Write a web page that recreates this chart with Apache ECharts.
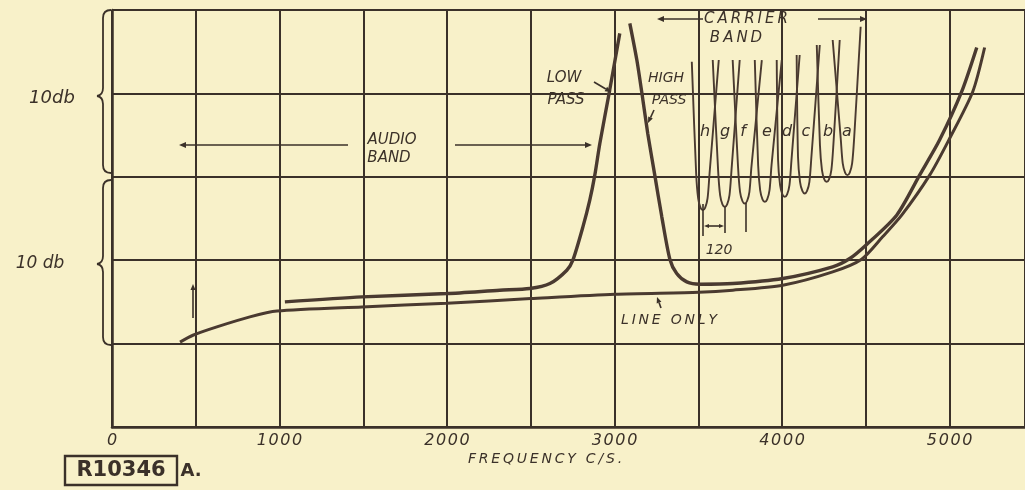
<!DOCTYPE html>
<html><head><meta charset="utf-8">
<script src="https://cdn.jsdelivr.net/npm/echarts@6/dist/echarts.min.js"></script>
<style>html,body{margin:0;padding:0;background:#f8f1c9;}#c{width:1025px;height:490px;}</style>
</head><body><div id="c"></div>
<script>
// ---- data (frequency c/s, relative loss in db; one grid step = 5 db) ----
const xTickLabels = [0, 1000, 2000, 3000, 4000, 5000];
const lowPass = [[1032,7.5],[1492,7.8],[1999,8.0],[2315,8.2],[2494,8.3],[2614,8.6],[2715,9.4],[2751,10.0],[2811,12.0],[2852,13.6],[2882,15.1],[2912,17.0],[2971,20.2],[3031,23.6]];
const highPass = [[3091,24.2],[3133,22.0],[3162,20.1],[3198,17.6],[3240,15.1],[3282,12.6],[3330,10.06],[3371,9.2],[3431,8.7],[3509,8.56],[3706,8.6],[4004,8.9],[4302,9.6],[4404,10.1],[4500,10.9],[4684,12.7],[4821,15.1],[4940,17.2],[5072,20.1],[5162,22.75]];
const lineOnly = [[406,5.09],[483,5.5],[626,6.0],[823,6.6],[985,6.95],[1492,7.2],[1999,7.42],[2500,7.7],[3001,7.96],[3503,8.08],[3706,8.2],[4004,8.5],[4302,9.3],[4475,10.06],[4600,11.4],[4714,12.7],[4881,15.1],[4995,17.2],[5138,20.1],[5209,22.75]];
const filterH = [[3461,21.9],[3487,15.2],[3499,13.7],[3513,13.15],[3527,13.0],[3541,13.15],[3555,13.7],[3567,15.2],[3622,22.0]];
const filterG = [[3586,22.0],[3618,15.4],[3630,13.9],[3644,13.35],[3658,13.2],[3672,13.35],[3686,13.9],[3698,15.4],[3747,22.0]];
const filterF = [[3705,22.0],[3737,15.6],[3749,14.1],[3763,13.55],[3777,13.4],[3791,13.55],[3805,14.1],[3817,15.6],[3879,22.0]];
const filterE = [[3837,22.0],[3857,15.7],[3869,14.2],[3883,13.65],[3897,13.5],[3911,13.65],[3925,14.2],[3937,15.7],[3998,22.0]];
const filterD = [[3968,22.0],[3976,16.0],[3988,14.5],[4002,13.95],[4016,13.8],[4030,13.95],[4044,14.5],[4056,16.0],[4105,22.3]];
const filterC = [[4087,22.3],[4095,16.2],[4107,14.7],[4121,14.15],[4135,14.0],[4149,14.15],[4163,14.7],[4175,16.2],[4225,22.9]];
const filterB = [[4207,22.9],[4226,16.9],[4238,15.4],[4252,14.85],[4266,14.7],[4280,14.85],[4294,15.4],[4306,16.9],[4344,23.2]];
const filterA = [[4302,23.2],[4350,17.3],[4362,15.8],[4376,15.25],[4390,15.1],[4404,15.25],[4418,15.8],[4430,17.3],[4469,24.0]];
const filterNames = ['h','g','f','e','d','c','b','a'];
const filters = [filterH, filterG, filterF, filterE, filterD, filterC, filterB, filterA];

const ink = '#3b3129';
const curveInk = '#4a3a30';
const FONT = '"DejaVu Sans", sans-serif';

function track(s, sp) { return s.split('').join(sp || '\u2009'); }
function txt(s, x, y, size, opts) {
  opts = opts || {};
  return { type: 'text', x: x, y: y, z: 10,
    style: { text: s, font: (opts.weight || 'italic') + ' ' + size + 'px ' + FONT,
      fill: ink, align: opts.align || 'center', verticalAlign: 'middle' } };
}
function line(x1, y1, x2, y2, w) {
  return { type: 'line', z: 10, shape: { x1: x1, y1: y1, x2: x2, y2: y2 }, style: { stroke: ink, lineWidth: w || 1.5 } };
}
function curve(x1, y1, cx, cy, x2, y2, w) {
  return { type: 'bezierCurve', z: 10, shape: { x1: x1, y1: y1, cpx1: cx, cpy1: cy, x2: x2, y2: y2 }, style: { stroke: ink, lineWidth: w || 1.8, fill: null } };
}
function brace(xr, xl, yTop, yTip, yBot) {
  return [curve(xr, yTop, xl + 6, yTop, xl + 6, yTop + 8),
    line(xl + 6, yTop + 8, xl + 6, yTip - 7, 1.8),
    curve(xl + 6, yTip - 7, xl + 6, yTip, xl, yTip + 1),
    curve(xl, yTip + 1, xl + 6, yTip + 2, xl + 6, yTip + 9),
    line(xl + 6, yTip + 9, xl + 6, yBot - 8, 1.8),
    curve(xl + 6, yBot - 8, xl + 6, yBot, xr, yBot)];
}
function arrow(x1, y1, x2, y2, s) {
  s = s || 7;
  const a = Math.atan2(y2 - y1, x2 - x1), w = s * 0.42;
  const bx = x2 - s * Math.cos(a), by = y2 - s * Math.sin(a);
  const nx = -Math.sin(a), ny = Math.cos(a);
  return [line(x1, y1, bx, by, 1.6),
    { type: 'polygon', z: 10, shape: { points: [[x2, y2], [bx + w * nx, by + w * ny], [bx - w * nx, by - w * ny]] }, style: { fill: ink } }];
}

const chart = echarts.init(document.getElementById('c'), null, { renderer: 'canvas' });

const series = [
  { name: 'Low pass', data: lowPass, width: 3.4 },
  { name: 'High pass', data: highPass, width: 3.4 },
  { name: 'Line only', data: lineOnly, width: 3 }
].map(s => ({ type: 'line', name: s.name, data: s.data, showSymbol: false, smooth: 0.25,
  lineStyle: { color: curveInk, width: s.width }, silent: true, z: 5 }));
filters.forEach((d, i) => series.push({ type: 'line', name: filterNames[i], data: d, showSymbol: false,
  smooth: 0.3, lineStyle: { color: curveInk, width: 1.9 }, silent: true, z: 4 }));

let graphic = [];
// braces for the two 10 db spans
graphic = graphic.concat(brace(111, 97, 10, 95, 173), brace(111, 97, 180, 263, 345));
graphic.push(txt('10db', 52, 98, 18));
graphic.push(txt('10 db', 40, 264, 17));
// audio band
graphic.push(txt('AUDIO', 392, 140, 15));
graphic.push(txt('BAND', 389, 158, 15));
graphic = graphic.concat(arrow(348, 145, 179, 145), arrow(455, 145, 592, 145));
// carrier band
graphic.push(txt(track('CARRIER'), 746, 19, 15));
graphic.push(txt(track('BAND'), 736, 38, 15));
graphic = graphic.concat(arrow(703, 19, 657, 19), arrow(818, 19, 867, 19));
// low / high pass
graphic.push(txt('LOW', 564, 78, 15));
graphic.push(txt('PASS', 566, 100, 15));
graphic = graphic.concat(arrow(594, 82, 611, 92, 6));
graphic.push(txt('HIGH', 666, 78, 14));
graphic.push(txt('PASS', 669, 100, 14));
graphic = graphic.concat(arrow(654, 110, 648, 123, 6));
// line only
graphic.push(txt(track('LINE ONLY'), 669, 320, 14));
graphic = graphic.concat(arrow(661, 308, 657, 297, 6));
// filter letters
const letterX = [705, 725, 743, 767, 787, 806, 828, 847];
filterNames.forEach((n, i) => graphic.push(txt(n, letterX[i], 132, 16)));
// 120 c/s spacing marker
graphic.push(line(703, 204, 703, 236, 1.6), line(725, 207, 725, 233, 1.6), line(746, 203, 746, 232, 1.6));
graphic = graphic.concat(arrow(714, 226, 704, 226, 5), arrow(714, 226, 724, 226, 5));
graphic.push(txt('120', 719, 250, 14));
// small mark near 500 c/s
graphic = graphic.concat(arrow(193, 318, 193, 284, 6));
// frequency axis title
graphic.push(txt(track('FREQUENCY C/S.'), 545, 459, 14));
// drawing reference
graphic.push({ type: 'rect', z: 10, shape: { x: 65, y: 456, width: 112, height: 29 }, style: { stroke: ink, lineWidth: 2.4, fill: null } });
graphic.push(txt('R10346', 121, 471, 21, { weight: 'bold' }));
graphic.push(txt('A.', 191, 471, 18, { weight: 'bold' }));

chart.setOption({
  backgroundColor: '#f8f1c9',
  animation: false,
  grid: { left: 112, right: 0, top: 10, bottom: 63 },
  xAxis: {
    type: 'value', min: 0, max: 5450, interval: 500,
    axisLine: { show: true, onZero: false, lineStyle: { color: ink, width: 2.5 } },
    axisTick: { show: false },
    splitLine: { show: true, lineStyle: { color: ink, width: 2 } },
    axisLabel: {
      showMaxLabel: false, margin: 6, color: ink, fontSize: 16, fontStyle: 'italic', fontFamily: FONT,
      formatter: v => xTickLabels.indexOf(v) >= 0 ? track(String(v), '\u200a') : ''
    }
  },
  yAxis: {
    type: 'value', min: 0, max: 25, interval: 5,
    axisLine: { show: true, lineStyle: { color: ink, width: 2.5 } },
    axisTick: { show: false },
    axisLabel: { show: false },
    splitLine: { show: true, lineStyle: { color: ink, width: 2 } }
  },
  series: series,
  graphic: graphic
});
</script></body></html>
